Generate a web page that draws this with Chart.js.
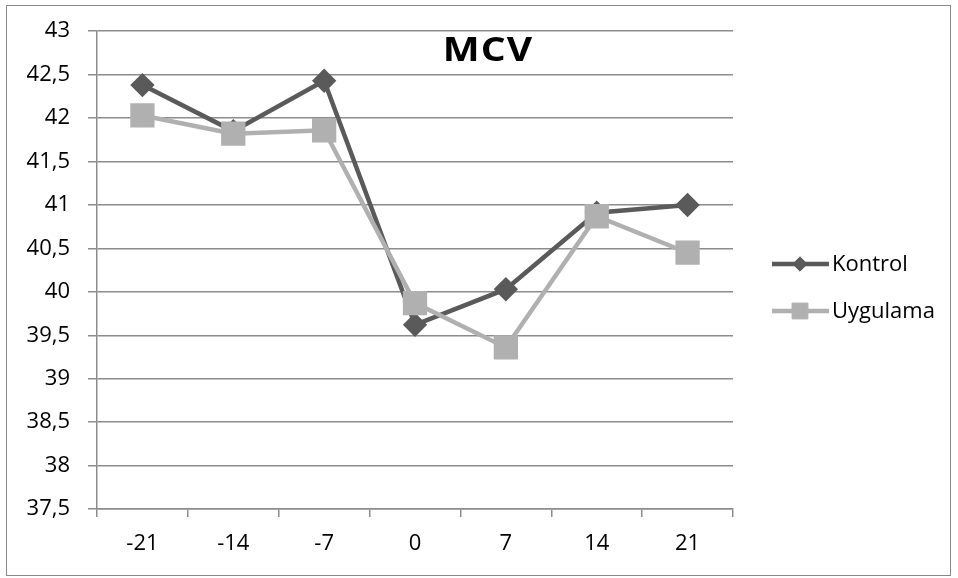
<!DOCTYPE html>
<html>
<head>
<meta charset="utf-8">
<script src="https://cdn.jsdelivr.net/npm/chart.js@4/dist/chart.umd.min.js"></script>
<style>
  html, body { margin: 0; padding: 0; background: #fff; }
  #kutu { position: relative; width: 958px; height: 578px; }
  #grafik { position: absolute; left: 0; top: 0; }
  #cerceve {
    position: absolute; left: 6px; top: 5px; width: 943px; height: 569px;
    border: 1.5px solid #8a8a8a; pointer-events: none;
  }
  #baslik {
    position: absolute; left: 388px; top: 24px; width: 200px; text-align: center;
    font-family: "Open Sans", sans-serif; font-weight: bold; font-size: 34px;
    letter-spacing: 1px; color: #000; line-height: 48px;
    transform: scaleX(1.15);
  }
</style>
</head>
<body>
<div id="kutu">
  <canvas id="grafik" width="958" height="578"></canvas>
  <div id="cerceve"></div>
  <div id="baslik">MCV</div>
</div>
<script>
// gunler (x ekseni)
const gunler = ['-21', '-14', '-7', '0', '7', '14', '21'];

// MCV degerleri
const kontrolDegerleri = [42.38, 41.85, 42.43, 39.62, 40.03, 40.91, 41.0];
const uygulamaDegerleri = [42.03, 41.82, 41.86, 39.87, 39.36, 40.87, 40.45];

const eksenMin = 37.5;
const eksenMax = 43;
const eksenAdim = 0.5;

const koyuGri = '#5a5a5a';
const acikGri = '#b0b0b0';
const cizgiGri = '#8c8c8c';

Chart.defaults.font.family = '"Open Sans", sans-serif';
Chart.defaults.font.size = 22;
Chart.defaults.color = '#000';

// Excel tarzi lejant: cizgi + isaret
const lejantEklentisi = {
  id: 'lejant',
  afterDraw(chart) {
    const ctx = chart.ctx;
    const satirlar = [
      { ds: chart.data.datasets[0], y: 264 },
      { ds: chart.data.datasets[1], y: 311 }
    ];
    ctx.save();
    satirlar.forEach(s => {
      ctx.strokeStyle = s.ds.borderColor;
      ctx.lineWidth = s.ds.borderWidth;
      ctx.beginPath();
      ctx.moveTo(772, s.y);
      ctx.lineTo(829, s.y);
      ctx.stroke();
      ctx.fillStyle = s.ds.pointBackgroundColor;
      ctx.strokeStyle = s.ds.pointBorderColor;
      ctx.lineWidth = 1;
      Chart.helpers.drawPoint(ctx, {
        pointStyle: s.ds.pointStyle,
        radius: s.ds.pointRadius * 0.8,
        rotation: 0,
        borderWidth: 1
      }, 800, s.y);
      ctx.fillStyle = '#000';
      ctx.font = '22px "Open Sans", sans-serif';
      ctx.textAlign = 'left';
      ctx.textBaseline = 'middle';
      ctx.fillText(s.ds.label, 832, s.y + 1);
    });
    ctx.restore();
  }
};

const ctx = document.getElementById('grafik').getContext('2d');

new Chart(ctx, {
  type: 'line',
  data: {
    labels: gunler,
    datasets: [
      {
        label: 'Kontrol',
        data: kontrolDegerleri,
        borderColor: koyuGri,
        backgroundColor: koyuGri,
        pointBackgroundColor: koyuGri,
        pointBorderColor: koyuGri,
        borderWidth: 4.5,
        pointStyle: 'rectRot',
        pointRadius: 9,
        tension: 0,
        order: 2
      },
      {
        label: 'Uygulama',
        data: uygulamaDegerleri,
        borderColor: acikGri,
        backgroundColor: acikGri,
        pointBackgroundColor: acikGri,
        pointBorderColor: acikGri,
        borderWidth: 4.5,
        pointStyle: 'rect',
        pointRadius: 14,
        tension: 0,
        order: 1
      }
    ]
  },
  options: {
    responsive: false,
    animation: false,
    layout: { padding: { top: 29, right: 225, bottom: 0, left: 0 } },
    plugins: {
      legend: { display: false },
      title: { display: false },
      tooltip: { enabled: false }
    },
    scales: {
      x: {
        offset: true,
        afterFit: s => { s.height = 69; },
        grid: {
          offset: true,
          drawOnChartArea: false,
          drawTicks: true,
          tickLength: 8,
          color: cizgiGri,
          lineWidth: 1.5
        },
        border: { color: cizgiGri, width: 1.5 },
        ticks: { padding: 14, maxRotation: 0 }
      },
      y: {
        min: eksenMin,
        max: eksenMax,
        afterFit: s => { s.width = 97; },
        grid: {
          drawTicks: true,
          tickLength: 9,
          color: cizgiGri,
          lineWidth: 1.5
        },
        border: { color: cizgiGri, width: 1.5 },
        ticks: {
          stepSize: eksenAdim,
          padding: 18,
          callback: v => String(v).replace('.', ',')
        }
      }
    }
  },
  plugins: [lejantEklentisi]
});
</script>
</body>
</html>
